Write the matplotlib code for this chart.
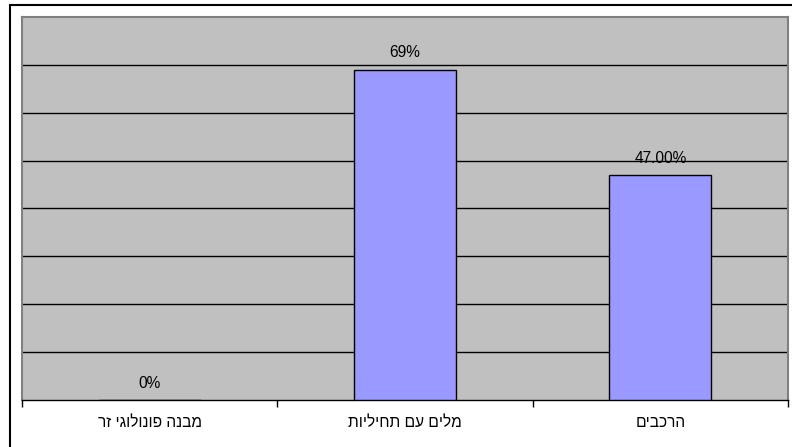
import matplotlib.pyplot as plt
from matplotlib.patches import Rectangle

plt.rcParams['font.family'] = ['Liberation Sans', 'DejaVu Sans']

categories = ['מבנה פונולוגי זר', 'מלים עם תחיליות', 'הרכבים']
values = [0, 69, 47]
value_labels = ['0%', '69%', '47.00%']

W, H = 792, 447
fig = plt.figure(figsize=(W / 100, H / 100), dpi=100)

# outer chart border (runs off the right/bottom edge as in the original)
fig.patches.append(Rectangle((10 / W, -0.05), 1.05, 1 - 5 / H + 0.05,
                             transform=fig.transFigure, fill=False,
                             edgecolor='black', linewidth=1.5))

left, right, top, bottom = 22, 788, 17, 400
ax = fig.add_axes([left / W, 1 - bottom / H, (right - left) / W, (bottom - top) / H])
ax.set_facecolor('#c0c0c0')

x = list(range(len(categories)))
ax.bar(x, values, width=0.4, color='#9999ff', edgecolor='black', linewidth=1, zorder=3)

ax.set_xlim(-0.5, len(categories) - 0.5)
ax.set_ylim(0, 80)
ax.set_yticks(range(10, 80, 10))
ax.yaxis.grid(True, color='black', linewidth=1)
ax.set_axisbelow(True)
ax.tick_params(axis='y', left=False, labelleft=False)

# category boundary ticks below the axis
ax.set_xticks([i - 0.5 for i in range(len(categories) + 1)])
ax.set_xticklabels([])
ax.tick_params(axis='x', direction='out', length=5, width=1, color='black')
for i, cat in enumerate(categories):
    ax.text(i, -0.06, cat[::-1], transform=ax.get_xaxis_transform(),
            ha='center', va='center', fontsize=11.2)

for s in ['top', 'left', 'right']:
    ax.spines[s].set_color('#808080')
    ax.spines[s].set_linewidth(1.5)
ax.spines['bottom'].set_color('black')
ax.spines['bottom'].set_linewidth(1)

for i, (v, lab) in enumerate(zip(values, value_labels)):
    ax.annotate(lab, (i, v), xytext=(0, 12), textcoords='offset points',
                ha='center', va='center', fontsize=11.2)

fig.savefig('out.png', dpi=100)
